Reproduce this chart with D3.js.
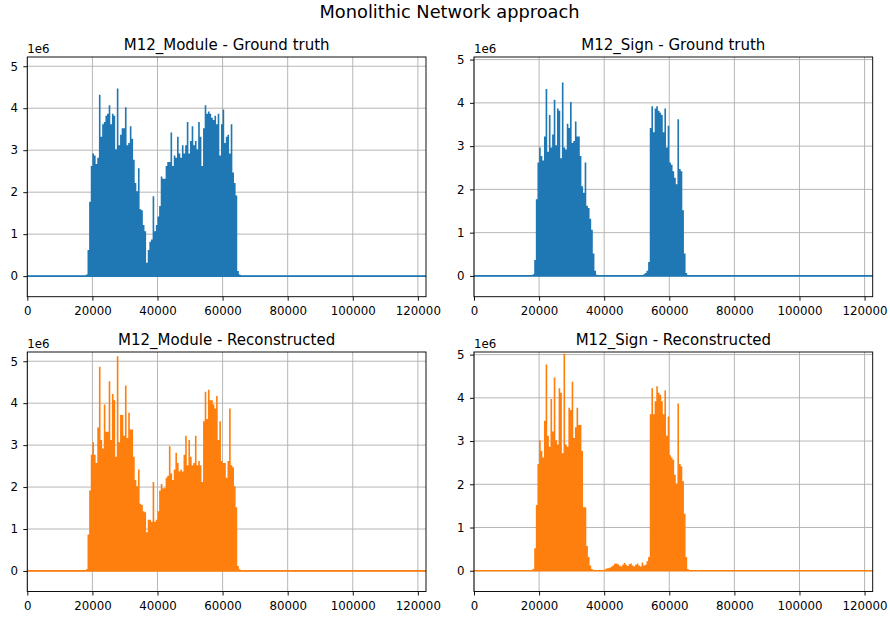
<!DOCTYPE html>
<html>
<head>
<meta charset="utf-8">
<script src="https://cdnjs.cloudflare.com/ajax/libs/d3/7.8.5/d3.min.js"></script>
<style>
    body { margin: 0; background: #fff; }
    svg { display: block; font-family: "DejaVu Sans", sans-serif; }
</style>
</head>
<body>
<svg id="fig" width="890" height="621"></svg>
<script>
const X_START = 17000;
const X_STEP = 500;
const X_END = 122500;

const xTicks = [0, 20000, 40000, 60000, 80000, 100000, 120000];
const yTicks = [0, 1, 2, 3, 4, 5];

// envelopes, in units of 1e6 (one row = 5000 samples)
const moduleTruth = [
    0, 0, 0.02, 0.6, 1.75, 2.6, 2.9, 2.85, 2.65, 2.8,
    4.3, 3.3, 3.6, 3.65, 3.8, 3.85, 4.05, 3.6, 3.85, 3.8,
    3.0, 4.45, 3.1, 3.35, 3.5, 3.5, 4.0, 3.1, 3.15, 3.55,
    3.25, 2.75, 2.2, 2.0, 2.55, 1.57, 1.55, 1.2, 1.05, 0.3,
    0.6, 0.8, 0.85, 1.88, 1.05, 1.2, 1.4, 1.65, 2.35, 2.3,
    2.3, 2.6, 2.7, 2.7, 3.4, 2.6, 2.85, 2.8, 3.3, 2.9,
    2.8, 3.1, 2.9, 3.1, 3.65, 2.9, 3.2, 3.55, 3.1, 3.2,
    3.0, 3.65, 3.3, 2.6, 3.5, 4.05, 3.85, 3.9, 3.85, 3.75,
    3.7, 3.8, 3.6, 3.85, 2.85, 3.6, 3.95, 3.15, 3.3, 3.35,
    2.9, 3.6, 2.45, 2.2, 1.9, 0.1, 0.02, 0, 0, 0
];
const signTruth = [
    0, 0, 0.02, 0.35, 1.75, 2.6, 2.95, 2.75, 2.65, 3.2,
    4.3, 2.85, 3.7, 2.95, 3.25, 4.05, 3.0, 3.85, 3.8, 2.7,
    4.45, 2.95, 2.9, 3.5, 3.4, 4.0, 3.05, 3.1, 3.55, 3.2,
    3.2, 2.75, 2.05, 1.9, 2.6, 1.6, 1.55, 1.3, 1.05, 0.5,
    0.1, 0.01, 0, 0, 0, 0, 0, 0, 0, 0,
    0, 0, 0, 0, 0, 0, 0, 0, 0, 0,
    0, 0, 0, 0, 0, 0, 0, 0, 0, 0,
    0.02, 0.05, 0.1, 0.3, 3.4, 3.9, 3.3, 3.85, 3.9, 3.8,
    3.75, 3.7, 3.3, 3.85, 2.95, 3.45, 2.6, 2.55, 2.4, 2.25,
    2.1, 3.6, 2.45, 2.4, 1.5, 0.5, 0.05, 0, 0, 0
];
const moduleRecon = [
    0, 0, 0.02, 0.85, 1.9, 2.75, 3.05, 2.75, 2.55, 3.4,
    4.85, 3.1, 2.9, 3.95, 3.3, 3.3, 4.5, 3.1, 4.2, 4.05,
    2.7, 5.1, 3.05, 3.7, 3.7, 3.2, 4.4, 3.15, 3.75, 3.35,
    3.35, 2.7, 2.15, 2.0, 2.4, 1.58, 1.55, 1.4, 1.38, 0.9,
    1.2, 1.2, 1.15, 2.1, 1.15, 1.2, 1.4, 1.9, 2.05, 1.95,
    1.95, 2.2, 2.25, 2.95, 2.3, 2.15, 2.4, 2.8, 2.55, 2.35,
    2.4, 2.35, 2.75, 3.2, 2.5, 3.1, 2.7, 2.5, 2.55, 3.2,
    2.5, 2.6, 2.5, 2.1, 3.55, 4.25, 3.6, 4.3, 4.05, 4.05,
    3.95, 3.85, 4.15, 3.1, 3.55, 2.6, 2.55, 2.55, 2.2, 2.6,
    3.85, 2.5, 2.45, 2.0, 1.5, 0.1, 0.02, 0, 0, 0
];
const signRecon = [
    0, 0, 0.02, 0.5, 1.5, 2.45, 3.0, 2.75, 2.6, 3.45,
    4.75, 3.1, 2.85, 3.95, 3.2, 4.45, 3.0, 2.9, 4.2, 4.1,
    2.7, 5.0, 2.9, 2.85, 3.75, 3.7, 4.35, 3.05, 3.3, 3.75,
    3.35, 3.35, 2.75, 1.45, 1.45, 0.55, 0.3, 0.1, 0.02, 0,
    0, 0, 0, 0, 0, 0, 0.01, 0.03, 0.04, 0.05,
    0.07, 0.1, 0.14, 0.15, 0.13, 0.1, 0.08, 0.12, 0.16, 0.12,
    0.09, 0.13, 0.15, 0.1, 0.08, 0.12, 0.15, 0.1, 0.08, 0.17,
    0.1, 0.12, 0.2, 0.3, 3.6, 4.2, 3.6, 3.9, 4.25, 4.1,
    4.05, 3.9, 3.6, 4.15, 3.1, 3.55, 2.65, 2.6, 2.55, 2.2,
    2.0, 3.85, 2.45, 2.4, 2.05, 1.3, 0.3, 0.02, 0, 0
];

const BLUE = "#1f77b4";
const ORANGE = "#ff7f0e";
const LW = 1.74;      // 1.5pt line
const THIN = 0.93;    // 0.8pt spines / grid / ticks

var svg = d3.select("#fig");

svg.append("text")
    .attr("x", 449.5).attr("y", 18)
    .attr("text-anchor", "middle")
    .style("font-size", "17.8px")
    .text("Monolithic Network approach");

var panels = [
    {title: "M12_Module - Ground truth", values: moduleTruth, color: BLUE, box: [27.3, 57, 426, 296.7], ydom: [-0.49, 5.22]},
    {title: "M12_Sign - Ground truth", values: signTruth, color: BLUE, box: [474, 57, 872.7, 296.7], ydom: [-0.48, 5.06]},
    {title: "M12_Module - Reconstructed", values: moduleRecon, color: ORANGE, box: [27.3, 352, 426, 591.5], ydom: [-0.49, 5.22]},
    {title: "M12_Sign - Reconstructed", values: signRecon, color: ORANGE, box: [474, 352, 872.7, 591.5], ydom: [-0.48, 5.06]}
];

function toPoints(vals) {
    let pts = [{x: 0, v: 0}];
    vals.forEach((v, i) => pts.push({x: X_START + i * X_STEP, v: v}));
    pts.push({x: X_END, v: 0});
    return pts;
}

panels.forEach(function(p) {
    let [l, t, r, b] = p.box;
    let x = d3.scaleLinear().domain([0, X_END]).range([l, r]);
    let y = d3.scaleLinear().domain(p.ydom).range([b, t]);
    let g = svg.append("g");

    // grid below the data
    g.append("g").selectAll("line").data(xTicks).join("line")
        .attr("x1", d => x(d)).attr("x2", d => x(d)).attr("y1", t).attr("y2", b)
        .attr("stroke", "#b0b0b0").attr("stroke-width", THIN);
    g.append("g").selectAll("line").data(yTicks).join("line")
        .attr("x1", l).attr("x2", r).attr("y1", d => y(d)).attr("y2", d => y(d))
        .attr("stroke", "#b0b0b0").attr("stroke-width", THIN);

    // the dense signal reads as a filled envelope; pad by half a line width
    let area = d3.area()
        .curve(d3.curveStepAfter)
        .x(d => x(d.x))
        .y0(y(0) + LW / 2)
        .y1(d => y(d.v) - LW / 2);
    g.append("path")
        .datum(toPoints(p.values))
        .attr("d", area)
        .attr("fill", p.color);

    let xAxis = d3.axisBottom(x).tickValues(xTicks).tickFormat(d3.format("d"))
        .tickSize(4).tickSizeOuter(0).tickPadding(6.2);
    let yAxis = d3.axisLeft(y).tickValues(yTicks).tickFormat(d3.format("d"))
        .tickSize(4).tickSizeOuter(0).tickPadding(5.4);
    let ax = g.append("g").attr("transform", "translate(0," + b + ")").call(xAxis);
    let ay = g.append("g").attr("transform", "translate(" + l + ",0)").call(yAxis);
    [ax, ay].forEach(a => {
        a.select(".domain").remove();
        a.selectAll("line").attr("stroke", "#000").attr("stroke-width", THIN);
        a.selectAll("text").attr("fill", "#000")
            .style("font-family", "DejaVu Sans, sans-serif").style("font-size", "11.8px");
    });

    g.append("rect")
        .attr("x", l).attr("y", t).attr("width", r - l).attr("height", b - t)
        .attr("fill", "none").attr("stroke", "#000").attr("stroke-width", THIN);

    g.append("text")
        .attr("x", (l + r) / 2).attr("y", t - 7.3)
        .attr("text-anchor", "middle")
        .style("font-size", "15px")
        .text(p.title);
    g.append("text")
        .attr("x", l).attr("y", t - 4)
        .style("font-size", "11.8px")
        .text("1e6");
});
</script>
</body>
</html>
